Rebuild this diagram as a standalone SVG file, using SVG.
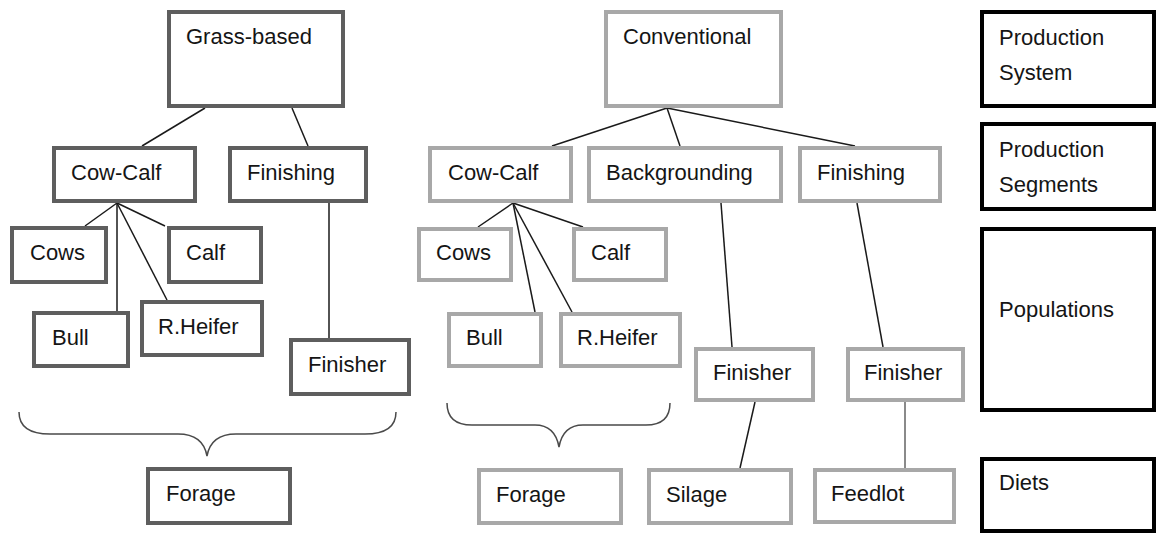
<svg xmlns="http://www.w3.org/2000/svg" width="1158" height="535" viewBox="0 0 1158 535">
<style>
text{font-family:"Liberation Sans",Arial,sans-serif;font-size:22px;fill:#151515}
.dk rect{fill:#fff;stroke:#5e5e5e;stroke-width:4}
.lt rect{fill:#fff;stroke:#a8a8a8;stroke-width:4}
.lg rect{fill:#fff;stroke:#000;stroke-width:4}
.c line,.c path{stroke:#1a1a1a;stroke-width:1.5;fill:none}
</style>
<rect width="1158" height="535" fill="#fff"/>
<g class="c" id="connectors">
<line x1="205" y1="108" x2="142" y2="146"/>
<line x1="292" y1="108" x2="308" y2="146"/>
<line x1="117" y1="203" x2="85" y2="226"/>
<line x1="117" y1="203" x2="165" y2="226"/>
<line x1="117" y1="203" x2="117" y2="311"/>
<line x1="117" y1="203" x2="167" y2="300"/>
<line x1="329" y1="203" x2="329" y2="338"/>
<line x1="667" y1="108" x2="552" y2="146"/>
<line x1="667" y1="108" x2="680" y2="146"/>
<line x1="667" y1="108" x2="855" y2="146"/>
<line x1="513" y1="203" x2="478" y2="227"/>
<line x1="513" y1="203" x2="583" y2="227"/>
<line x1="513" y1="203" x2="535" y2="312"/>
<line x1="513" y1="203" x2="572" y2="312"/>
<line x1="721" y1="203" x2="732" y2="347"/>
<line x1="857" y1="203" x2="883" y2="347"/>
<line x1="755" y1="402" x2="740" y2="468"/>
<line x1="905" y1="402" x2="905" y2="468" style="stroke:#8a8a8a;stroke-width:2"/>
<path d="M19,412 Q19,434 50,434 L178,434 Q203,434 207,456 Q211,434 236,434 L365,434 Q396,434 396,412" style="stroke:#4a4a4a"/>
<path d="M447,403 Q447,425 472,425 L535,425 Q555,425 559,447 Q563,425 583,425 L646,425 Q670,425 670,403" style="stroke:#4a4a4a"/>
</g>
<g class="dk">
<g id="grass-based"><rect x="169" y="12" width="174" height="94"/><text x="186" y="44">Grass-based</text></g>
<g id="cowcalf-g"><rect x="54" y="148" width="141" height="53"/><text x="71" y="180">Cow-Calf</text></g>
<g id="finishing-g"><rect x="230" y="148" width="136" height="53"/><text x="247" y="180">Finishing</text></g>
<g id="cows-g"><rect x="12" y="228" width="94" height="54"/><text x="30" y="260">Cows</text></g>
<g id="calf-g"><rect x="169" y="228" width="92" height="54"/><text x="186" y="260">Calf</text></g>
<g id="bull-g"><rect x="34" y="313" width="94" height="53"/><text x="52" y="345">Bull</text></g>
<g id="rheifer-g"><rect x="142" y="302" width="120" height="53"/><text x="158" y="334">R.Heifer</text></g>
<g id="finisher-g"><rect x="291" y="340" width="118" height="54"/><text x="308" y="372">Finisher</text></g>
<g id="forage-g"><rect x="148" y="469" width="142" height="54"/><text x="166" y="501">Forage</text></g>
</g>
<g class="lt">
<g id="conventional"><rect x="606" y="12" width="175" height="94"/><text x="623" y="44">Conventional</text></g>
<g id="cowcalf-c"><rect x="430" y="148" width="141" height="53"/><text x="448" y="180">Cow-Calf</text></g>
<g id="backgrounding"><rect x="589" y="148" width="192" height="53"/><text x="606" y="180">Backgrounding</text></g>
<g id="finishing-c"><rect x="800" y="148" width="140" height="53"/><text x="817" y="180">Finishing</text></g>
<g id="cows-c"><rect x="419" y="229" width="92" height="51"/><text x="436" y="260">Cows</text></g>
<g id="calf-c"><rect x="574" y="229" width="92" height="51"/><text x="591" y="260">Calf</text></g>
<g id="bull-c"><rect x="449" y="314" width="92" height="52"/><text x="466" y="345">Bull</text></g>
<g id="rheifer-c"><rect x="561" y="314" width="119" height="52"/><text x="577" y="345">R.Heifer</text></g>
<g id="finisher-bg"><rect x="696" y="349" width="117" height="51"/><text x="713" y="380">Finisher</text></g>
<g id="finisher-fin"><rect x="848" y="349" width="115" height="51"/><text x="864" y="380">Finisher</text></g>
<g id="forage-c"><rect x="479" y="470" width="142" height="53"/><text x="496" y="502">Forage</text></g>
<g id="silage"><rect x="649" y="470" width="142" height="53"/><text x="666" y="502">Silage</text></g>
<g id="feedlot"><rect x="815" y="470" width="139" height="52"/><text x="831" y="501">Feedlot</text></g>
</g>
<g class="lg">
<g id="leg-system"><rect x="982" y="12" width="172" height="94"/><text x="999" y="45">Production</text><text x="999" y="80">System</text></g>
<g id="leg-segments"><rect x="982" y="124" width="172" height="85"/><text x="999" y="157">Production</text><text x="999" y="192">Segments</text></g>
<g id="leg-populations"><rect x="982" y="229" width="172" height="181"/><text x="999" y="317">Populations</text></g>
<g id="leg-diets"><rect x="982" y="459" width="172" height="72"/><text x="999" y="490">Diets</text></g>
</g>
</svg>
